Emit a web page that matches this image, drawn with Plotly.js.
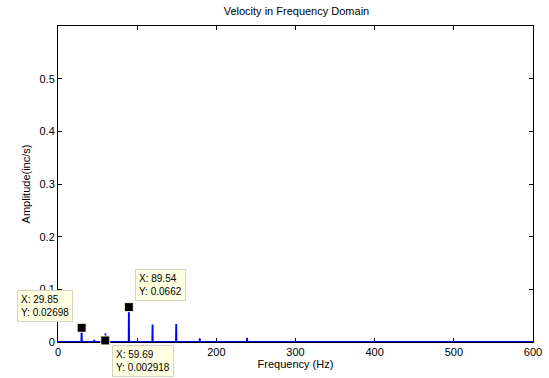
<!DOCTYPE html>
<html>
<head>
<meta charset="utf-8">
<script src="https://cdn.plot.ly/plotly-3.0.1.min.js"></script>
<style>html,body{margin:0;padding:0;background:#fff;}#chart{width:549px;height:378px;}</style>
</head>
<body>
<div id="chart"></div>
<script>
// Spectrum samples (Hz, inc/s)
const freq = [0, 29.55, 29.85, 30.15, 45.5, 45.8, 46.1, 59.39, 59.69, 59.99, 60.29, 89.24, 89.54, 89.84, 119.1, 119.4, 119.7, 149.0, 149.3, 149.6, 178.8, 179.1, 179.4, 238.5, 238.8, 239.1, 600];
const amp  = [0, 0, 0.02698, 0, 0, 0.004, 0, 0, 0.002918, 0.016, 0, 0, 0.0662, 0, 0, 0.033, 0, 0, 0.034, 0, 0, 0.007, 0, 0, 0.008, 0, 0];
// Data tips
const tipX = [29.85, 89.54, 59.69];
const tipY = [0.02698, 0.0662, 0.002918];
const tipLabels = ["X: 29.85<br>Y: 0.02698", "X: 89.54<br>Y: 0.0662", "X: 59.69<br>Y: 0.002918"];
const xTicks = [0, 100, 200, 300, 400, 500, 600];
const yTicks = [0, 0.1, 0.2, 0.3, 0.4, 0.5];

const tipOffsets = [[-37, -22], [32, -22], [38, 21]];

const traces = [
  {x: freq, y: amp, type: 'scatter', mode: 'lines', line: {color: '#0000ff', width: 1.8}, cliponaxis: false, hoverinfo: 'none'},
  {x: tipX, y: tipY, type: 'scatter', mode: 'markers', cliponaxis: false,
   marker: {symbol: 'square', size: 9, color: '#000', line: {color: '#ffffe1', width: 1}}, hoverinfo: 'none'}
];

const annotations = tipX.map((xv, i) => ({
  x: xv, y: tipY[i], xref: 'x', yref: 'y', text: tipLabels[i],
  showarrow: true, arrowcolor: 'rgba(0,0,0,0)', arrowwidth: 0.1,
  ax: tipOffsets[i][0], ay: tipOffsets[i][1],
  align: 'left', bgcolor: '#ffffe1', bordercolor: '#d4d4c0', borderwidth: 1, borderpad: 3,
  font: {family: 'Liberation Sans, Arial, sans-serif', size: 10, color: '#000'}
}));

const layout = {
  width: 549, height: 378,
  margin: {l: 58, r: 16, t: 26, b: 36},
  paper_bgcolor: '#fff', plot_bgcolor: '#fff',
  showlegend: false,
  font: {family: 'Liberation Sans, Arial, sans-serif', size: 11, color: '#000'},
  title: {text: 'Velocity in Frequency Domain', font: {size: 11}, x: 0.54, xanchor: 'center', y: 0.97, yanchor: 'middle'},
  xaxis: {
    range: [0, 600], tickvals: xTicks, ticktext: xTicks.map(String),
    ticks: 'inside', ticklen: 4, tickcolor: '#000', showline: true, linecolor: '#000', linewidth: 1,
    mirror: 'ticks', showgrid: false, zeroline: false, layer: 'below traces',
    title: {text: 'Frequency (Hz)', font: {size: 11}, standoff: 3}
  },
  yaxis: {
    range: [0, 0.6], tickvals: yTicks, ticktext: yTicks.map(String),
    ticks: 'inside', ticklen: 4, tickcolor: '#000', showline: true, linecolor: '#000', linewidth: 1,
    mirror: 'ticks', showgrid: false, zeroline: false, layer: 'below traces',
    title: {text: 'Amplitude(inc/s)', font: {size: 11}, standoff: 6}
  },
  annotations: annotations
};

Plotly.newPlot('chart', traces, layout, {staticPlot: true});
</script>
</body>
</html>
